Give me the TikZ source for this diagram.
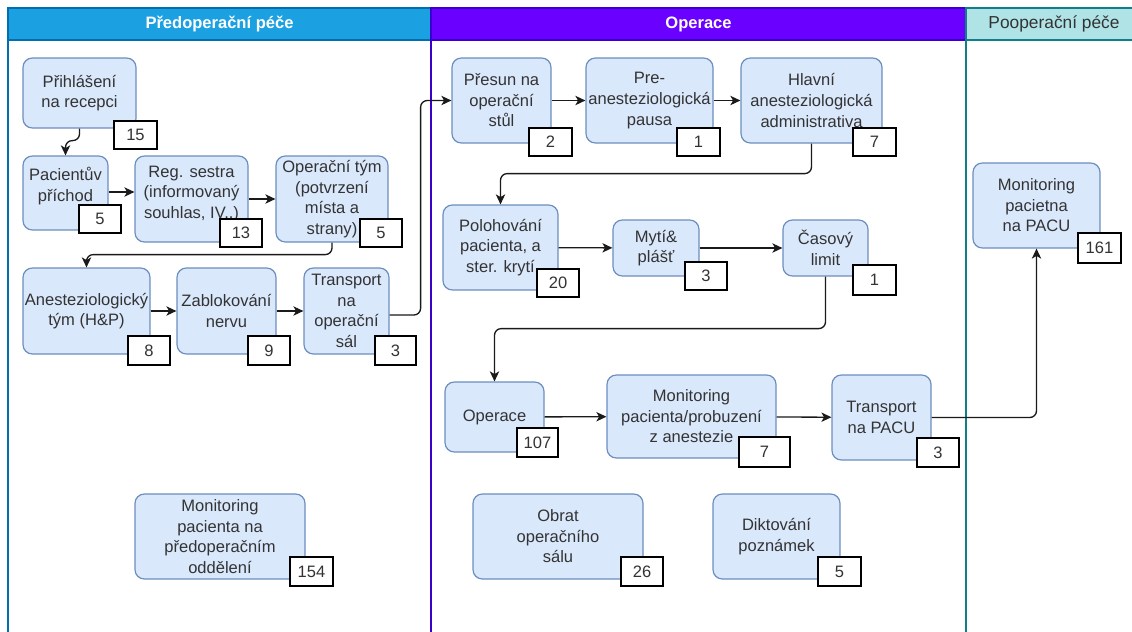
\documentclass[tikz,border=0pt]{standalone}
\usepackage{fontspec}
\setmainfont{Liberation Sans}
\usetikzlibrary{arrows.meta,calc}
\definecolor{nfill}{HTML}{DAE8FC}
\definecolor{ndraw}{HTML}{6C8EBF}
\definecolor{ntext}{HTML}{333333}
\definecolor{laneA}{HTML}{1BA1E2}
\definecolor{laneAd}{HTML}{006EAF}
\definecolor{laneB}{HTML}{6A00FF}
\definecolor{laneBd}{HTML}{3700CC}
\definecolor{laneC}{HTML}{B0E3E6}
\definecolor{laneCd}{HTML}{0E8088}
\definecolor{edgec}{HTML}{1A1A1A}
\newcommand\bx[6]{\node[box,minimum width={(#4-#2)*0.75pt},minimum height={(#5-#3)*0.75pt}] (#1) at ({(#2+#4)/2},{(#3+#5)/2}) {#6};}
\newcommand\bd[6]{\node[badge,minimum width={(#4-#2)*0.75pt},minimum height={(#5-#3)*0.75pt}] (#1) at ({(#2+#4)/2},{(#3+#5)/2}) {#6};}
\newcommand\lane[7]{\node[lanehead,fill=#5,draw=#6,text=#7,minimum width={(#3-#2)*0.75pt},minimum height={32*0.75pt}] (#1) at ({(#2+#3)/2},24) {#4};}
\begin{document}
\begin{tikzpicture}[x=0.75pt,y=-0.75pt,
  every node/.style={font=\fontsize{12.4}{15.4}\selectfont},
  box/.style={draw=ndraw,fill=nfill,line width=0.9pt,rounded corners=7pt,align=center,inner sep=0pt,text=ntext},
  badge/.style={draw=black,fill=white,line width=1.1pt,inner sep=0pt,text=ntext},
  lanehead/.style={line width=1.1pt,inner sep=0pt},
  conn/.style={draw=edgec,line width=1pt,rounded corners=5pt,-{Stealth[length=7.5pt,width=7pt,inset=2pt]}},
  laneline/.style={line width=1.1pt}]
\useasboundingbox (0,0) rectangle (1132,632);
\clip (0,0) rectangle (1132,632);
\fill[white] (0,0) rectangle (1132,632);
% lanes
\draw[laneline,draw=laneAd] (8,40) -- (8,645);
\lane{hA}{8}{431}{\bfseries Předoperační péče}{laneA}{laneAd}{white}
\draw[laneline,draw=laneBd] (431,40) -- (431,645);
\lane{hB}{431}{966}{\bfseries Operace}{laneB}{laneBd}{white}
\draw[laneline,draw=laneCd] (966,40) -- (966,645);
\lane{hC}{966}{1142}{\fontsize{13}{15}\selectfont Pooperační péče}{laneC}{laneCd}{ntext}
% boxes
\bx{rec}{23}{58}{136}{128}{Přihlášení\\na recepci}
\bx{pri}{23}{156}{108}{230}{Pacientův\\příchod\\[-2pt]\mbox{}}
\bx{reg}{135}{156}{248}{242}{Reg. sestra\\(informovaný\\souhlas, IV..)\\[-5pt]\mbox{}}
\bx{opt}{276}{156}{388}{242}{Operační tým\\(potvrzení\\místa a\\strany)}
\bx{ane}{23}{268}{150}{354}{Anesteziologický\\tým (H\&P)}
\bx{zab}{177}{268}{276}{354}{Zablokování\\nervu}
\bx{tra}{304}{268}{389}{354}{Transport\\na\\operační\\sál}
\bx{pre}{452}{58}{551}{143}{Přesun na\\operační\\stůl}
\bx{pau}{586}{58}{713}{143}{Pre-\\anesteziologická\\pausa}
\bx{hla}{741}{58}{882}{143}{Hlavní\\anesteziologická\\administrativa}
\bx{pol}{443}{205}{558}{290}{Polohování\\pacienta, a\\ster. krytí}
\bx{myt}{613}{220}{699}{276}{Mytí\&\\plášť}
\bx{cas}{783}{220}{868}{276}{Časový\\limit}
\bx{ope}{445}{382}{544}{452}{Operace}
\bx{mon}{607}{375}{776}{458}{Monitoring\\pacienta/probuzení\\z anestezie}
\bx{tpa}{832}{375}{931}{460}{Transport\\na PACU}
\bx{pac}{973}{163}{1100}{248}{Monitoring\\pacietna\\na PACU}
\bx{mpr}{135}{494}{305}{579}{Monitoring\\pacienta na\\předoperačním\\oddělení}
\bx{obr}{473}{494}{643}{579}{Obrat\\operačního\\sálu}
\bx{dik}{713}{494}{840}{579}{Diktování\\poznámek}
% connectors
\draw[conn] (rec.south) -- ++(0,12) -| (pri.north);
\draw[conn] ([yshift=0.75pt]pri.east) -- ([yshift=0.75pt]pri.east -| reg.west);
\draw[conn] (reg) -- (opt);
\draw[conn] (opt.south) -- ++(0,12) -| (ane.north);
\draw[conn] (ane) -- (zab);
\draw[conn] (zab) -- (tra);
\draw[conn] ([yshift=-3pt]tra.east) -- ++(31,0) |- (pre.west);
\draw[conn] (pre) -- (pau);
\draw[conn] (pau) -- (hla);
\draw[conn] (hla.south) -- ++(0,30) -| (pol.north);
\draw[conn] (pol) -- (myt);
\draw[conn] (myt) -- (cas);
\draw[conn] (cas.south) -- ++(0,52) -| (ope.north);
\draw[conn] (ope) -- (mon);
\draw[conn] (mon) -- (tpa);
\draw[conn] (tpa.east) -| (pac.south);
% badges
\bd{b15}{114}{121}{157}{149}{15}
\bd{b5a}{79}{205}{121}{233}{5}
\bd{b13}{220}{219}{262}{247}{13}
\bd{b5b}{360}{219}{402}{247}{5}
\bd{b8}{128}{336}{170}{365}{8}
\bd{b9}{248}{336}{290}{365}{9}
\bd{b3a}{375}{336}{416}{365}{3}
\bd{b2}{529}{128}{572}{156}{2}
\bd{b1a}{677}{128}{720}{156}{1}
\bd{b7a}{853}{128}{896}{156}{7}
\bd{b20}{537}{269}{579}{297}{20}
\bd{b3b}{685}{262}{727}{290}{3}
\bd{b1b}{853}{265}{896}{295}{1}
\bd{b107}{517}{428}{558}{457}{107}
\bd{b7b}{739}{437}{790}{467}{7}
\bd{b3c}{917}{438}{959}{467}{3}
\bd{b161}{1078}{233}{1121}{263}{161}
\bd{b154}{290}{557}{333}{586}{154}
\bd{b26}{621}{557}{663}{586}{26}
\bd{b5c}{818}{557}{861}{586}{5}
\end{tikzpicture}
\end{document}
